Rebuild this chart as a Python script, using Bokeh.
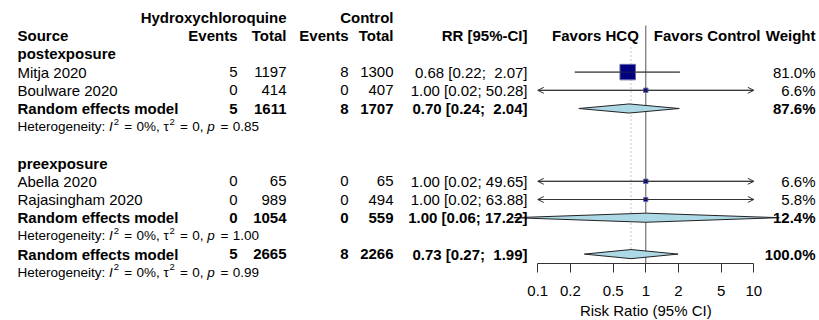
import math
from bokeh.plotting import figure
from bokeh.models import (Range1d, LogScale, LogAxis, FixedTicker, ColumnDataSource,
                          Arrow, OpenHead, Label, CustomJSTickFormatter)
from bokeh.core.properties import value
from bokeh.embed import file_html
from bokeh.resources import INLINE

# ---------------- data ----------------
study = ["Mitja 2020", "Boulware 2020", "Abella 2020", "Rajasingham 2020"]
study_group = ["postexposure", "postexposure", "preexposure", "preexposure"]
ev_hcq = [5, 0, 0, 0]
n_hcq = [1197, 414, 65, 989]
ev_ctl = [8, 0, 0, 0]
n_ctl = [1300, 407, 65, 494]
rr = [0.68, 1.00, 1.00, 1.00]
rr_lo = [0.22, 0.02, 0.02, 0.02]
rr_hi = [2.07, 50.28, 49.65, 63.88]
weight = [81.0, 6.6, 6.6, 5.8]

groups = ["postexposure", "preexposure"]
grp_ev_hcq = [5, 0]
grp_n_hcq = [1611, 1054]
grp_ev_ctl = [8, 0]
grp_n_ctl = [1707, 559]
grp_rr = [0.70, 1.00]
grp_lo = [0.24, 0.06]
grp_hi = [2.04, 17.22]
grp_w = [87.6, 12.4]
grp_i2 = ["0%", "0%"]
grp_tau2 = ["0", "0"]
grp_p = ["0.85", "1.00"]

tot_ev_hcq, tot_n_hcq, tot_ev_ctl, tot_n_ctl = 5, 2665, 8, 2266
tot_rr, tot_lo, tot_hi, tot_w = 0.73, 0.27, 1.99, 100.0
tot_i2, tot_tau2, tot_p = "0%", "0", "0.99"

ref_value = 1.0
axis_ticks = [0.1, 0.2, 0.5, 1, 2, 5, 10]
axis_title = "Risk Ratio (95% CI)"
model_label = "Random effects model"
headers_top = ["Hydroxychloroquine", "Control"]
headers = ["Source", "Events", "Total", "Events", "Total", "RR [95%-CI]", "Favors HCQ", "Favors Control", "Weight"]

# ---------------- layout ----------------
W, H = 819, 320
ROW0 = 17.0     # canvas y of row 0
ROWH = 18.2     # pixels per row
X_ONE = 645.3   # canvas x of RR = 1
DEC = 108.0     # pixels per decade
FONT = "Liberation Sans"
FS = "15px"
HFS = "13.5px"
SUPFS = "9.5px"
EQPAD = 0.5
NBSP = "\u00a0"

C_SRC = 17
C_EVH = 237
C_NH = 286
C_EVC = 348
C_NC = 393
C_RR = 527
C_W = 815

p = figure(width=W, height=H, output_backend="svg", toolbar_location=None,
           x_range=Range1d(0, W), y_range=Range1d((H - ROW0) / ROWH, -ROW0 / ROWH),
           x_axis_type=None, y_axis_type=None, min_border=0, outline_line_color=None)
p.extra_x_ranges = {"rr": Range1d(10 ** (-X_ONE / DEC), 10 ** ((W - X_ONE) / DEC))}
p.extra_x_scales = {"rr": LogScale()}

texts = {}


def put(x, r, t, align="right", style="normal", size=FS, rng="default", xoff=0, yoff=0):
    key = (align, style, size, rng, xoff, yoff)
    g = texts.setdefault(key, {"x": [], "y": [], "t": []})
    g["x"].append(x)
    g["y"].append(r)
    g["t"].append(t)


def fmt_ci(e, l, h):
    return f"{e:.2f} [{l:.2f}; {h:5.2f}]".replace(" ", NBSP)


# Arial-like widths (per 1 px font size) for laying out the heterogeneity line
CW = {" ": .278, ".": .278, ",": .278, ":": .278, "%": .889, "=": .584, "H": .722, "e": .556,
      "t": .278, "r": .333, "o": .556, "g": .556, "n": .556, "i": .222, "y": .5, "\u03c4": .45,
      "I": .278, "p": .556}


def tw(s, size):
    return sum(CW.get(c, .556) for c in s) * size


def het(r, i2, tau2, pv):
    fs = float(HFS[:-2])
    sfs = float(SUPFS[:-2])
    x = C_SRC
    pieces = [("Heterogeneity: ", "normal", HFS, 0, 0), ("I", "italic", HFS, 0, 1),
              ("2", "normal", SUPFS, -5, 1),
              (" ", "normal", HFS, 0, EQPAD), ("=", "normal", HFS, 0, EQPAD),
              (f" {i2}, \u03c4", "normal", HFS, 0, 0), ("2", "normal", SUPFS, -5, 1),
              (" ", "normal", HFS, 0, EQPAD), ("=", "normal", HFS, 0, EQPAD),
              (f" {tau2}, ", "normal", HFS, 0, 0), ("p", "italic", HFS, 0, 1.5),
              (" ", "normal", HFS, 0, EQPAD), ("=", "normal", HFS, 0, EQPAD),
              (f" {pv}", "normal", HFS, 0, 0)]
    for s, st, sz, yo, extra in pieces:
        if s.strip():
            put(x, r, s.replace(" ", NBSP), "left", st, sz, yoff=yo)
        x += tw(s, sfs if sz == SUPFS else fs) + extra


# header
put(C_NH, 0, headers_top[0], style="bold")
put(C_NC, 0, headers_top[1], style="bold")
put(C_SRC, 1, headers[0], "left", "bold")
for c, t in zip([C_EVH, C_NH, C_EVC, C_NC, C_RR], headers[1:6]):
    put(c, 1, t, style="bold")
put(ref_value, 1, headers[6], "right", "bold", rng="rr", xoff=-7)
put(ref_value, 1, headers[7], "left", "bold", rng="rr", xoff=8)
put(C_W, 1, headers[8], style="bold")

study_row = [0] * len(study)
grp_row = [0] * len(groups)
r = 2
for gi, g in enumerate(groups):
    put(C_SRC, r, g, "left", "bold")
    r += 1
    for i in range(len(study)):
        if study_group[i] != g:
            continue
        study_row[i] = r
        put(C_SRC, r, study[i], "left")
        put(C_EVH, r, str(ev_hcq[i]))
        put(C_NH, r, str(n_hcq[i]))
        put(C_EVC, r, str(ev_ctl[i]))
        put(C_NC, r, str(n_ctl[i]))
        put(C_RR, r, fmt_ci(rr[i], rr_lo[i], rr_hi[i]))
        put(C_W, r, f"{weight[i]:.1f}%")
        r += 1
    grp_row[gi] = r
    put(C_SRC, r, model_label, "left", "bold")
    put(C_EVH, r, str(grp_ev_hcq[gi]), style="bold")
    put(C_NH, r, str(grp_n_hcq[gi]), style="bold")
    put(C_EVC, r, str(grp_ev_ctl[gi]), style="bold")
    put(C_NC, r, str(grp_n_ctl[gi]), style="bold")
    put(C_RR, r, fmt_ci(grp_rr[gi], grp_lo[gi], grp_hi[gi]), style="bold")
    put(C_W, r, f"{grp_w[gi]:.1f}%", style="bold")
    r += 1
    het(r, grp_i2[gi], grp_tau2[gi], grp_p[gi])
    r += 1
    if gi < len(groups) - 1:
        r += 1
tot_row = r
put(C_SRC, r, model_label, "left", "bold")
put(C_EVH, r, str(tot_ev_hcq), style="bold")
put(C_NH, r, str(tot_n_hcq), style="bold")
put(C_EVC, r, str(tot_ev_ctl), style="bold")
put(C_NC, r, str(tot_n_ctl), style="bold")
put(C_RR, r, fmt_ci(tot_rr, tot_lo, tot_hi), style="bold")
put(C_W, r, f"{tot_w:.1f}%", style="bold")
het(r + 1, tot_i2, tot_tau2, tot_p)
axis_row = tot_row + 0.5

# ---------------- forest ----------------
amin, amax = axis_ticks[0], axis_ticks[-1]
# reference and overall lines
p.segment(x0=[ref_value], y0=[0.44], x1=[ref_value], y1=[axis_row], x_range_name="rr",
          line_color="#555555", line_width=1)
p.segment(x0=[tot_rr], y0=[1.65], x1=[tot_rr], y1=[tot_row], x_range_name="rr",
          line_color="#888888", line_width=1, line_dash="1 3")

# CI lines
cx0 = [max(l, amin) for l in rr_lo]
cx1 = [min(h, amax) for h in rr_hi]
p.segment(x0=cx0, y0=study_row, x1=cx1, y1=study_row, x_range_name="rr", line_color="#333333", line_width=1)
left_src = ColumnDataSource(dict(xs=[rr[i] for i in range(len(rr)) if rr_lo[i] < amin],
                                 xe=[amin for i in range(len(rr)) if rr_lo[i] < amin],
                                 y=[study_row[i] for i in range(len(rr)) if rr_lo[i] < amin]))
right_src = ColumnDataSource(dict(xs=[rr[i] for i in range(len(rr)) if rr_hi[i] > amax],
                                  xe=[amax for i in range(len(rr)) if rr_hi[i] > amax],
                                  y=[study_row[i] for i in range(len(rr)) if rr_hi[i] > amax]))
for src in (left_src, right_src):
    p.add_layout(Arrow(end=OpenHead(size=6, line_color="#333333", line_width=1),
                       x_start="xs", y_start="y", x_end="xe", y_end="y", source=src,
                       x_range_name="rr", line_color="#333333", line_width=1))

# squares (area proportional to weight)
sizes = [15.5 * math.sqrt(w / max(weight)) for w in weight]
p.scatter(x=rr, y=study_row, size=sizes, marker="square", x_range_name="rr",
          fill_color="#000080", line_color="#6a6aa8", line_width=1)
p.segment(x0=cx0[:1], y0=study_row[:1], x1=cx1[:1], y1=study_row[:1], x_range_name="rr",
          line_color="#333333", line_width=1, line_alpha=0.6)

# diamonds
dh = 0.25
dx, dy = [], []
for e, l, h, rw in list(zip(grp_rr, grp_lo, grp_hi, grp_row)) + [(tot_rr, tot_lo, tot_hi, tot_row)]:
    dx.append([l, e, h, e])
    dy.append([rw, rw - dh, rw, rw + dh])
p.patches(xs=dx, ys=dy, x_range_name="rr", fill_color="#add8e6", line_color="#222222", line_width=1)

# texts
for (align, style, size, rng, xoff, yoff), g in texts.items():
    p.text(x="x", y="y", text="t", source=ColumnDataSource(g), x_range_name=rng,
           text_align=align, text_baseline="middle", text_font=value(FONT),
           text_font_size=value(size), text_font_style=style, text_color="#000000",
           x_offset=xoff, y_offset=yoff)

# axis
ax = LogAxis(x_range_name="rr", bounds=(amin, amax), ticker=FixedTicker(ticks=axis_ticks),
             fixed_location=axis_row,
             formatter=CustomJSTickFormatter(code="return String(tick);"))
ax.major_tick_in = 0
ax.major_tick_out = 9
ax.minor_tick_in = 0
ax.minor_tick_out = 0
ax.axis_line_color = "#333333"
ax.major_tick_line_color = "#333333"
ax.major_label_text_font = FONT
ax.major_label_text_font_size = FS
ax.major_label_text_color = "#000000"
ax.major_label_standoff = 14
p.add_layout(ax, "below")

p.add_layout(Label(x=ref_value, y=(310 - ROW0) / ROWH, x_range_name="rr", text=axis_title,
                   text_align="center", text_baseline="middle", text_font=FONT,
                   text_font_size=FS, text_color="#000000"))

open("out.html", "w").write(file_html(p, INLINE))
